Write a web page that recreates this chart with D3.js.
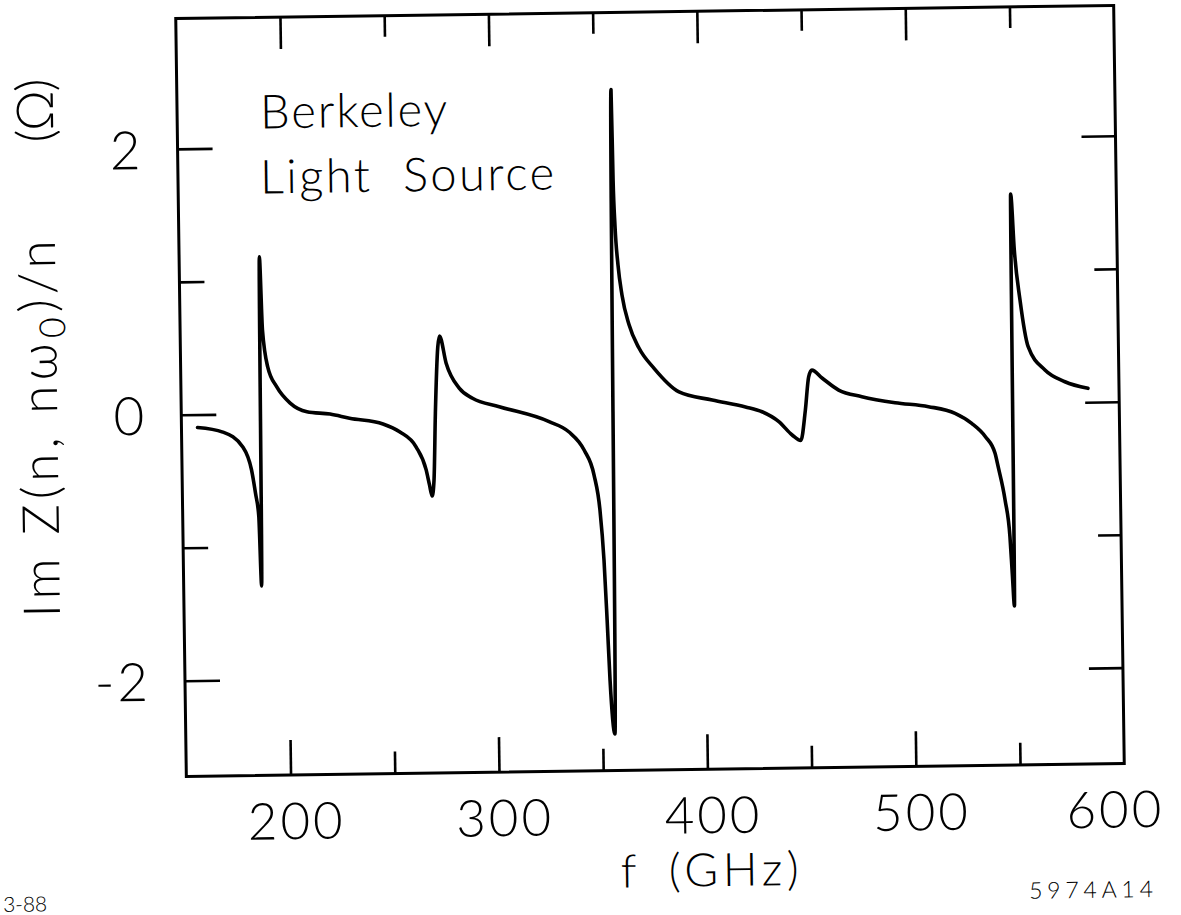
<!DOCTYPE html>
<html>
<head>
<meta charset="utf-8">
<script src="https://cdn.jsdelivr.net/npm/d3@7/dist/d3.min.js"></script>
<style>
  html, body { margin: 0; padding: 0; background: #fff; }
  svg { display: block; }
  text { fill: #000; font-family: "Lato", "Liberation Sans", sans-serif; font-weight: 300; }
</style>
</head>
<body>
<script>
// Im Z(n, nω0)/n of the Berkeley Light Source vs frequency
const freqGHz = [157.7, 169.8, 179.3, 183.3, 185.1, 186.5, 187.4, 188.5, 189.5, 191.8,
  196.0, 202.3, 210.3, 221.4, 230.7, 246.7, 254.6, 262.4, 267.1, 268.6,
  269.8, 270.8, 271.9, 273.5, 274.4, 277.4, 283.6, 289.8, 302.6, 326.4,
  335.9, 343.0, 347.6, 350.2, 351.8, 352.9, 353.9, 355.9, 358.3, 358.7,
  359.3, 360.5, 362.2, 365.4, 370.0, 377.1, 388.9, 404.8, 420.7, 428.6,
  436.6, 442.9, 447.0, 449.4, 451.2, 452.8, 457.6, 465.5, 476.6, 492.5,
  508.5, 521.2, 529.1, 535.6, 540.1, 541.5, 544.6, 546.7, 547.6, 548.4,
  549.3, 550.7, 553.1, 556.7, 564.6, 574.1, 585.1];
const imZ = [-0.097, -0.134, -0.248, -0.42, -0.60, -0.77, -1.295, 1.18, 0.63, 0.35,
  0.20, 0.077, 0.01, -0.01, -0.044, -0.09, -0.15, -0.265, -0.44, -0.553,
  -0.637, -0.517, -0.013, 0.485, 0.565, 0.36, 0.17, 0.094, 0.028, -0.09,
  -0.17, -0.307, -0.496, -0.76, -1.136, -1.587, -2.04, -2.445, 2.40, 1.72,
  1.38, 1.08, 0.855, 0.63, 0.454, 0.30, 0.12, 0.056, 0.0, -0.038,
  -0.114, -0.216, -0.258, -0.03, 0.22, 0.27, 0.21, 0.117, 0.065, 0.016,
  -0.017, -0.07, -0.147, -0.249, -0.375, -0.476, -0.727, -1.004, -1.29, -1.525,
  1.573, 1.15, 0.775, 0.423, 0.246, 0.156, 0.104];

const xMajorTicks = [200, 300, 400, 500];
const xMinorTicks = [250, 350, 450, 550];
const xTickLabels = [200, 300, 400, 500, 600];
const yMajorTicks = [-2, 0, 2];
const yMinorTicks = [-1, 1];
const yTickLabels = [-2, 0, 2];

const W = 1181, H = 915;
const svg = d3.select("body").append("svg").attr("width", W).attr("height", H);
svg.append("rect").attr("width", W).attr("height", H).attr("fill", "#fff");

// the whole plot sits slightly tilted on the sheet
const g = svg.append("g").attr("transform", "rotate(-0.8 649 391)");

const x = d3.scaleLinear().domain([150, 600]).range([181, 1119]);
const y = d3.scaleLinear().domain([-2.72, 2.98]).range([770, 12]);

const x0 = x.range()[0], x1 = x.range()[1];
const yTop = y.range()[1], yBot = y.range()[0];

// frame
g.append("rect")
  .attr("x", x0).attr("y", yTop)
  .attr("width", x1 - x0).attr("height", yBot - yTop)
  .attr("fill", "none").attr("stroke", "#000").attr("stroke-width", 3);

// inward tick marks on all four sides
function ticks(axis, transform) {
  const t = g.append("g").attr("transform", transform).call(axis);
  t.select(".domain").remove();
  t.selectAll(".tick line").attr("stroke", "#000").attr("stroke-width", 2.6);
  t.selectAll(".tick text").remove();
}
ticks(d3.axisBottom(x).tickValues(xMajorTicks).tickSize(-35).tickFormat(""), `translate(0,${yBot})`);
ticks(d3.axisBottom(x).tickValues(xMinorTicks).tickSize(-22).tickFormat(""), `translate(0,${yBot})`);
ticks(d3.axisTop(x).tickValues(xMajorTicks).tickSize(-32).tickFormat(""), `translate(0,${yTop})`);
ticks(d3.axisTop(x).tickValues(xMinorTicks).tickSize(-21).tickFormat(""), `translate(0,${yTop})`);
ticks(d3.axisLeft(y).tickValues(yMajorTicks).tickSize(-35).tickFormat(""), `translate(${x0},0)`);
ticks(d3.axisLeft(y).tickValues(yMinorTicks).tickSize(-25).tickFormat(""), `translate(${x0},0)`);
ticks(d3.axisRight(y).tickValues(yMajorTicks).tickSize(-34).tickFormat(""), `translate(${x1},0)`);
ticks(d3.axisRight(y).tickValues(yMinorTicks).tickSize(-23).tickFormat(""), `translate(${x1},0)`);

// tick labels (plain hyphen for the minus sign)
const plain = d => String(d);
const xl = g.append("g").attr("transform", `translate(0,${yBot})`)
  .call(d3.axisBottom(x).tickValues(xTickLabels).tickSize(0).tickFormat(plain));
xl.select(".domain").remove();
xl.selectAll("text")
  .attr("y", 64).attr("dy", 0)
  .attr("dx", d => d === 600 ? -10 : 5)
  .attr("font-size", 51).attr("letter-spacing", 3)
  .attr("font-family", "Lato, 'Liberation Sans', sans-serif").attr("font-weight", 300);

const yl = g.append("g").attr("transform", `translate(${x0},0)`)
  .call(d3.axisLeft(y).tickValues(yTickLabels).tickSize(0).tickFormat(plain));
yl.select(".domain").remove();
yl.selectAll("text")
  .attr("x", -34).attr("dy", "0.36em")
  .attr("text-anchor", "end")
  .attr("font-size", 53).attr("letter-spacing", 3)
  .attr("font-family", "Lato, 'Liberation Sans', sans-serif").attr("font-weight", 300);

// the impedance curve
const pts = freqGHz.map((f, i) => ({ f, v: imZ[i] }));
g.append("path")
  .datum(pts)
  .attr("fill", "none")
  .attr("stroke", "#000")
  .attr("stroke-width", 3.6)
  .attr("stroke-linejoin", "round")
  .attr("stroke-linecap", "round")
  .attr("d", d3.line().x(d => x(d.f)).y(d => y(d.v)).curve(d3.curveMonotoneX));

// annotation inside the frame
g.append("text").attr("x", 264).attr("y", 123)
  .attr("font-size", 47).attr("textLength", 187).attr("lengthAdjust", "spacing")
  .text("Berkeley");
g.append("text").attr("x", 263).attr("y", 188)
  .attr("font-size", 47).attr("textLength", 294).attr("lengthAdjust", "spacing")
  .attr("xml:space", "preserve")
  .text("Light  Source");

// axis titles
const yt = g.append("text")
  .attr("transform", "translate(57,609) rotate(-90)")
  .attr("font-size", 51).attr("textLength", 377).attr("lengthAdjust", "spacing");
yt.append("tspan").text("Im Z(n, nω");
yt.append("tspan").attr("font-size", 36).attr("dy", 9).text("0");
yt.append("tspan").attr("dy", -9).text(")/n");

g.append("text")
  .attr("transform", "translate(57,134) rotate(-90)")
  .attr("font-size", 51).attr("textLength", 64).attr("lengthAdjust", "spacing")
  .text("(Ω)");

g.append("text").attr("x", 614).attr("y", 887)
  .attr("font-size", 46).text("f");
g.append("text").attr("x", 662).attr("y", 887)
  .attr("font-size", 46).attr("textLength", 130).attr("lengthAdjust", "spacing")
  .text("(GHz)");

// figure codes
g.append("text").attr("x", 1022).attr("y", 904)
  .attr("font-size", 23).attr("font-weight", 700)
  .attr("font-family", "'Liberation Sans', sans-serif")
  .attr("textLength", 124).attr("lengthAdjust", "spacing")
  .text("5974A14");
g.append("text").attr("x", -4).attr("y", 903)
  .attr("font-size", 21).attr("font-weight", 700)
  .attr("font-family", "'Liberation Sans', sans-serif")
  .attr("textLength", 44).attr("lengthAdjust", "spacing")
  .text("3-88");
</script>
</body>
</html>
